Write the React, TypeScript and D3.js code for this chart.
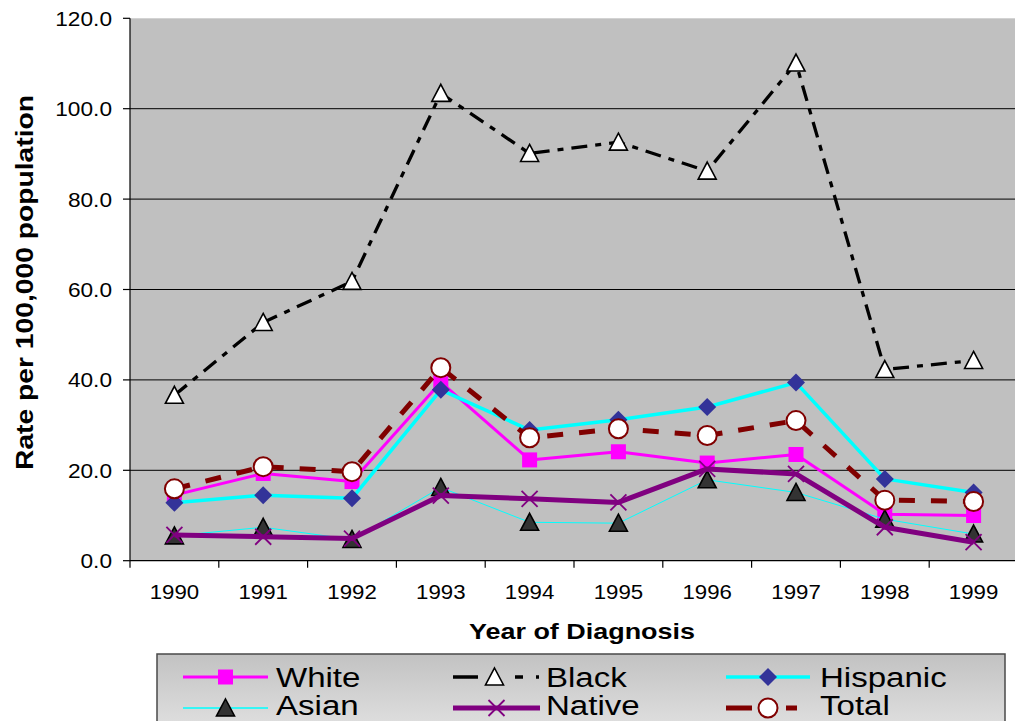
import React from 'react';
import * as d3 from 'd3';

const years = ['1990', '1991', '1992', '1993', '1994', '1995', '1996', '1997', '1998', '1999'];
const yTicks = [0, 20, 40, 60, 80, 100, 120];

const white = [14.5, 19.3, 17.5, 39.5, 22.3, 24.1, 21.6, 23.5, 10.3, 10.0];
const black = [36.6, 52.7, 61.8, 103.4, 90.1, 92.6, 86.2, 110.1, 42.3, 44.3];
const hispanic = [12.8, 14.5, 13.8, 37.8, 28.9, 31.2, 34.0, 39.4, 18.1, 15.1];
const asian = [5.5, 7.4, 4.7, 16.2, 8.5, 8.3, 17.9, 15.1, 9.2, 5.9];
const native = [5.7, 5.3, 4.9, 14.4, 13.7, 12.9, 20.3, 19.2, 7.4, 4.1];
const total = [15.9, 20.8, 19.7, 42.7, 27.2, 29.2, 27.7, 31.0, 13.4, 13.1];

const seriesNames = ['White', 'Black', 'Hispanic', 'Asian', 'Native', 'Total'];

type Style = { color: string; width: number; dash?: string; marker: string };
const styles: Record<string, Style> = {
  White: { color: '#FF00FF', width: 3, marker: 'square' },
  Black: { color: '#000000', width: 3.3, dash: '16,8,6,8', marker: 'triWhite' },
  Hispanic: { color: '#00FFFF', width: 3.5, marker: 'diamond' },
  Asian: { color: '#00FFFF', width: 1, marker: 'triDark' },
  Native: { color: '#800080', width: 5, marker: 'cross' },
  Total: { color: '#800000', width: 5, dash: '16,16', marker: 'circle' },
};
const dataByName: Record<string, number[]> = {
  White: white, Black: black, Hispanic: hispanic, Asian: asian, Native: native, Total: total,
};

function Marker({ kind, x, y }: { kind: string; x: number; y: number }) {
  switch (kind) {
    case 'square':
      return <rect x={x - 7.5} y={y - 7.5} width={15} height={15} fill="#FF00FF" />;
    case 'triWhite':
      return <path d={`M${x},${y - 9}L${x + 9},${y + 8}L${x - 9},${y + 8}Z`} fill="#fff" stroke="#000" strokeWidth={1.6} strokeLinejoin="miter" />;
    case 'diamond':
      return <path d={`M${x},${y - 9}L${x + 9},${y}L${x},${y + 9}L${x - 9},${y}Z`} fill="#333399" />;
    case 'triDark':
      return <path d={`M${x},${y - 9}L${x + 9},${y + 8}L${x - 9},${y + 8}Z`} fill="#333333" stroke="#000" strokeWidth={1.6} />;
    case 'cross':
      return <g stroke="#800080" strokeWidth={1.8}><line x1={x - 8} y1={y - 8} x2={x + 8} y2={y + 8} /><line x1={x - 8} y1={y + 8} x2={x + 8} y2={y - 8} /></g>;
    case 'circle':
      return <circle cx={x} cy={y} r={9.5} fill="#fff" stroke="#800000" strokeWidth={2} />;
    default:
      return null;
  }
}

export default function App() {
  const W = 1015, H = 721;
  const left = 130, top = 18.3, bottom = 560.7, plotRight = 1018;
  const x = d3.scaleBand<string>().domain(years).range([left, plotRight]).padding(0);
  const y = d3.scaleLinear().domain([0, 120]).range([bottom, top]);
  const cx = (i: number) => (x(years[i]) as number) + x.bandwidth() / 2;
  const line = d3.line<number>().x((_, i) => cx(i)).y(d => y(d));

  const font = '"Liberation Sans", Arial, sans-serif';

  const legendItems = [
    { name: 'White', col: 0, row: 0 },
    { name: 'Black', col: 1, row: 0 },
    { name: 'Hispanic', col: 2, row: 0 },
    { name: 'Asian', col: 0, row: 1 },
    { name: 'Native', col: 1, row: 1 },
    { name: 'Total', col: 2, row: 1 },
  ];
  const colLine = [[183, 268], [453, 540], [726, 810]];
  const colText = [276, 546, 820];
  const rowLine = [677, 708];
  const rowText = [686.5, 714.5];

  return (
    <svg width={W} height={H} style={{ position: 'absolute', left: 0, top: 0, background: '#fff' }} fontFamily={font}>
      <defs>
        <clipPath id="plotclip"><rect x={left} y={0} width={plotRight - left} height={bottom + 1} /></clipPath>
        <linearGradient id="lg" x1="0" y1="0" x2="0" y2="1">
          <stop offset="0" stopColor="#c2c2c2" />
          <stop offset="1" stopColor="#e6e6e6" />
        </linearGradient>
      </defs>
      <rect x={left} y={top} width={plotRight - left} height={bottom - top} fill="#C0C0C0" />
      {yTicks.filter(t => t > 0 && t < 120).map(t => (
        <line key={t} x1={left} x2={plotRight} y1={y(t)} y2={y(t)} stroke="#000" strokeWidth={1} />
      ))}
      <line x1={left} x2={left} y1={top} y2={bottom} stroke="#000" strokeWidth={1.2} />
      <line x1={left} x2={plotRight} y1={bottom} y2={bottom} stroke="#000" strokeWidth={1.2} />
      {yTicks.map(t => (
        <g key={t}>
          <line x1={left - 7} x2={left} y1={y(t)} y2={y(t)} stroke="#000" strokeWidth={1.2} />
          <g transform={`translate(112,${y(t) + 7.5}) scale(1.08,1)`}>
            <text x={0} y={0} fontSize={21} textAnchor="end" fill="#000">{t.toFixed(1)}</text>
          </g>
        </g>
      ))}
      {years.map((yr, i) => (
        <g key={yr}>
          <line x1={x(yr) as number} x2={x(yr) as number} y1={bottom} y2={bottom + 7} stroke="#000" strokeWidth={1.2} />
          <g transform={`translate(${cx(i)},599) scale(1.06,1)`}>
            <text x={0} y={0} fontSize={21} textAnchor="middle" fill="#000">{yr}</text>
          </g>
        </g>
      ))}
      <text x={582} y={638.5} fontSize={22} fontWeight="bold" textAnchor="middle" textLength={226} lengthAdjust="spacingAndGlyphs">Year of Diagnosis</text>
      <text transform="translate(33,282.5) rotate(-90)" x={0} y={0} fontSize={23} fontWeight="bold" textAnchor="middle" textLength={375} lengthAdjust="spacingAndGlyphs">Rate per 100,000 population</text>

      <g clipPath="url(#plotclip)">
        {seriesNames.map(name => {
          const s = styles[name];
          const d = dataByName[name];
          return (
            <g key={name}>
              <path d={line(d) as string} fill="none" stroke={s.color} strokeWidth={s.width} strokeDasharray={s.dash} strokeLinejoin="round" />
              {d.map((v, i) => <Marker key={i} kind={s.marker} x={cx(i)} y={y(v)} />)}
            </g>
          );
        })}
      </g>

      <rect x={157} y={654} width={848} height={90} fill="url(#lg)" stroke="#4a4a4a" strokeWidth={1.5} />
      {legendItems.map(it => {
        const s = styles[it.name];
        const [x1, x2] = colLine[it.col];
        const ly = rowLine[it.row];
        return (
          <g key={it.name}>
            <line x1={x1} x2={x2} y1={ly} y2={ly} stroke={s.color} strokeWidth={it.name === 'Asian' ? 1.5 : s.width} strokeDasharray={it.name === 'Black' ? '25,37,8,13,3,40' : it.name === 'Total' ? '26,34,11,40' : undefined} />
            <Marker kind={s.marker} x={(x1 + x2) / 2 + (it.name === 'Black' ? -2 : 0)} y={ly} />
            <g transform={`translate(${colText[it.col]},${rowText[it.row]}) scale(1.18,1)`}>
              <text x={0} y={0} fontSize={28} fill="#000">{it.name}</text>
            </g>
          </g>
        );
      })}
    </svg>
  );
}
